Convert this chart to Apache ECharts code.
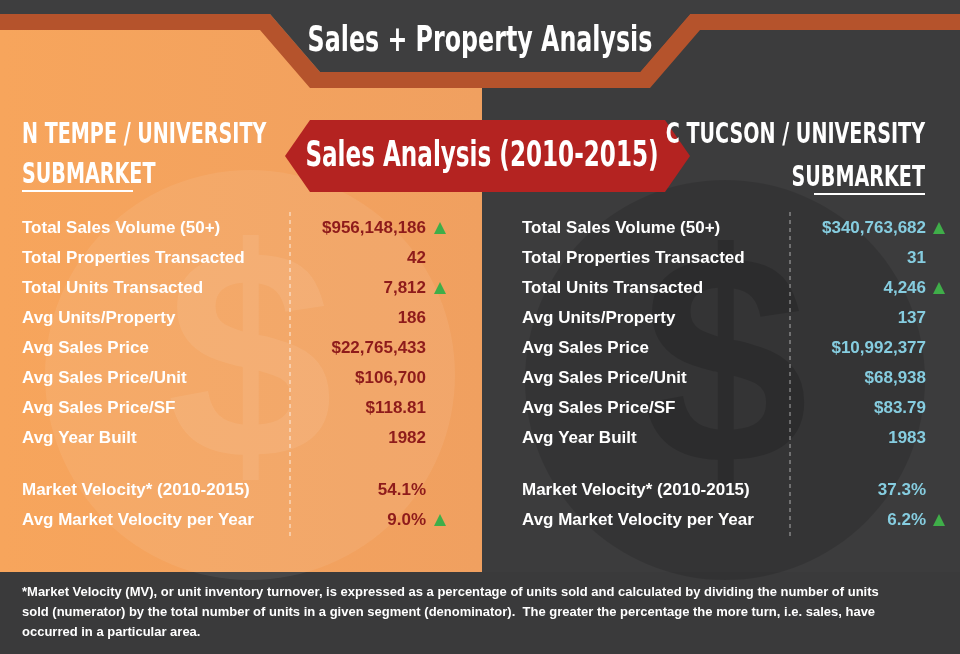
<!DOCTYPE html>
<html><head><meta charset="utf-8">
<script src="https://cdn.jsdelivr.net/npm/echarts@6/dist/echarts.min.js"></script>
<style>html,body{margin:0;padding:0;background:#3a3a3a}#chart{width:960px;height:654px}</style>
</head><body><div id="chart"></div>
<script>
// metric rows
var metrics = ['Total Sales Volume (50+)', 'Total Properties Transacted', 'Total Units Transacted',
  'Avg Units/Property', 'Avg Sales Price', 'Avg Sales Price/Unit', 'Avg Sales Price/SF', 'Avg Year Built',
  'Market Velocity* (2010-2015)', 'Avg Market Velocity per Year'];
var tempeValues = ['$956,148,186', '42', '7,812', '186', '$22,765,433', '$106,700', '$118.81', '1982', '54.1%', '9.0%'];
var tucsonValues = ['$340,763,682', '31', '4,246', '137', '$10,992,377', '$68,938', '$83.79', '1983', '37.3%', '6.2%'];
var tempeUp = [1, 0, 1, 0, 0, 0, 0, 0, 0, 1];
var tucsonUp = [1, 0, 1, 0, 0, 0, 0, 0, 0, 1];
var rowY = [228, 258, 288, 318, 348, 378, 408, 438, 490, 520];

var sans = "'Liberation Sans',Arial,sans-serif";
var bold = "'DejaVu Sans',sans-serif";

// squeezed text to stand in for a condensed face
function condText(x, y, text, size, align) {
  return { type: 'text', x: x, y: y, scaleX: 0.66,
    style: { x: 0, y: 0, text: text, fill: '#fff', font: 'bold ' + size + 'px ' + bold, align: align || 'left', verticalAlign: 'middle' } };
}

var g = [];
// panels
g.push({ type: 'rect', shape: { x: 0, y: 0, width: 482, height: 572 },
  style: { fill: new echarts.graphic.LinearGradient(0, 0, 1, 0, [{ offset: 0, color: '#f7a55c' }, { offset: 1, color: '#f0a060' }]) } });
g.push({ type: 'rect', shape: { x: 482, y: 0, width: 478, height: 572 }, style: { fill: '#3c3c3d' } });
g.push({ type: 'rect', shape: { x: 0, y: 572, width: 960, height: 82 }, style: { fill: '#3a3a3b' } });
// watermark circles
g.push({ type: 'circle', shape: { cx: 250, cy: 375, r: 205 }, style: { fill: 'rgba(255,255,255,0.07)' } });
g.push({ type: 'text', style: { x: 250, y: 375, text: '$', fill: 'rgba(255,255,255,0.08)', font: 'bold 300px ' + sans, align: 'center', verticalAlign: 'middle' } });
g.push({ type: 'circle', shape: { cx: 725, cy: 380, r: 200 }, style: { fill: 'rgba(0,0,0,0.12)' } });
g.push({ type: 'text', style: { x: 725, y: 380, text: '$', fill: 'rgba(0,0,0,0.15)', font: 'bold 300px ' + sans, align: 'center', verticalAlign: 'middle' } });
// top stripes
g.push({ type: 'polygon', shape: { points: [[0, 14], [270, 14], [320, 72], [640, 72], [690, 14], [960, 14], [960, 30], [700, 30], [650, 88], [310, 88], [260, 30], [0, 30]] }, style: { fill: '#b5532c' } });
g.push({ type: 'polygon', shape: { points: [[0, 0], [960, 0], [960, 14], [690, 14], [640, 72], [320, 72], [270, 14], [0, 14]] }, style: { fill: '#3e3e3f' } });
g.push(condText(480, 42, 'Sales + Property Analysis', 36, 'center'));
// red banner
g.push({ type: 'polygon', shape: { points: [[310, 120], [665, 120], [690, 156], [665, 192], [310, 192], [285, 156]] }, style: { fill: '#b42321' } });
g.push(condText(482, 157, 'Sales Analysis (2010-2015)', 35, 'center'));
// submarket titles
g.push(condText(22, 135, 'N TEMPE / UNIVERSITY', 29));
g.push(condText(22, 175, 'SUBMARKET', 29));
g.push({ type: 'rect', shape: { x: 22, y: 190, width: 111, height: 2 }, style: { fill: '#fff' } });
g.push(condText(925, 135, 'C TUCSON / UNIVERSITY', 29, 'right'));
g.push(condText(925, 178, 'SUBMARKET', 29, 'right'));
g.push({ type: 'rect', shape: { x: 814, y: 193, width: 111, height: 2 }, style: { fill: '#fff' } });
// dashed dividers
g.push({ type: 'line', shape: { x1: 290, y1: 212, x2: 290, y2: 540 }, style: { stroke: 'rgba(255,255,255,0.8)', lineDash: [4, 4], lineWidth: 1 } });
g.push({ type: 'line', shape: { x1: 790, y1: 212, x2: 790, y2: 540 }, style: { stroke: 'rgba(255,255,255,0.6)', lineDash: [4, 4], lineWidth: 1 } });

function tri(x, y) {
  return { type: 'polygon', shape: { points: [[x, y + 6], [x + 12, y + 6], [x + 6, y - 6]] }, style: { fill: '#3fae49' } };
}
metrics.forEach(function (m, i) {
  var y = rowY[i];
  g.push({ type: 'text', style: { x: 22, y: y, text: m, fill: '#fff', font: 'bold 17px ' + sans, verticalAlign: 'middle' } });
  g.push({ type: 'text', style: { x: 426, y: y, text: tempeValues[i], fill: '#8e1b1b', font: 'bold 17px ' + sans, align: 'right', verticalAlign: 'middle' } });
  if (tempeUp[i]) g.push(tri(434, y));
  g.push({ type: 'text', style: { x: 522, y: y, text: m, fill: '#fff', font: 'bold 17px ' + sans, verticalAlign: 'middle' } });
  g.push({ type: 'text', style: { x: 926, y: y, text: tucsonValues[i], fill: '#86cde0', font: 'bold 17px ' + sans, align: 'right', verticalAlign: 'middle' } });
  if (tucsonUp[i]) g.push(tri(933, y));
});
// footnote
g.push({ type: 'text', style: { x: 22, y: 582, fill: '#fff', font: 'bold 13px ' + sans, lineHeight: 20, verticalAlign: 'top',
  text: '*Market Velocity (MV), or unit inventory turnover, is expressed as a percentage of units sold and calculated by dividing the number of units\nsold (numerator) by the total number of units in a given segment (denominator).  The greater the percentage the more turn, i.e. sales, have\noccurred in a particular area.' } });

var chart = echarts.init(document.getElementById('chart'));
chart.setOption({ animation: false, graphic: { elements: g } });
</script></body></html>
